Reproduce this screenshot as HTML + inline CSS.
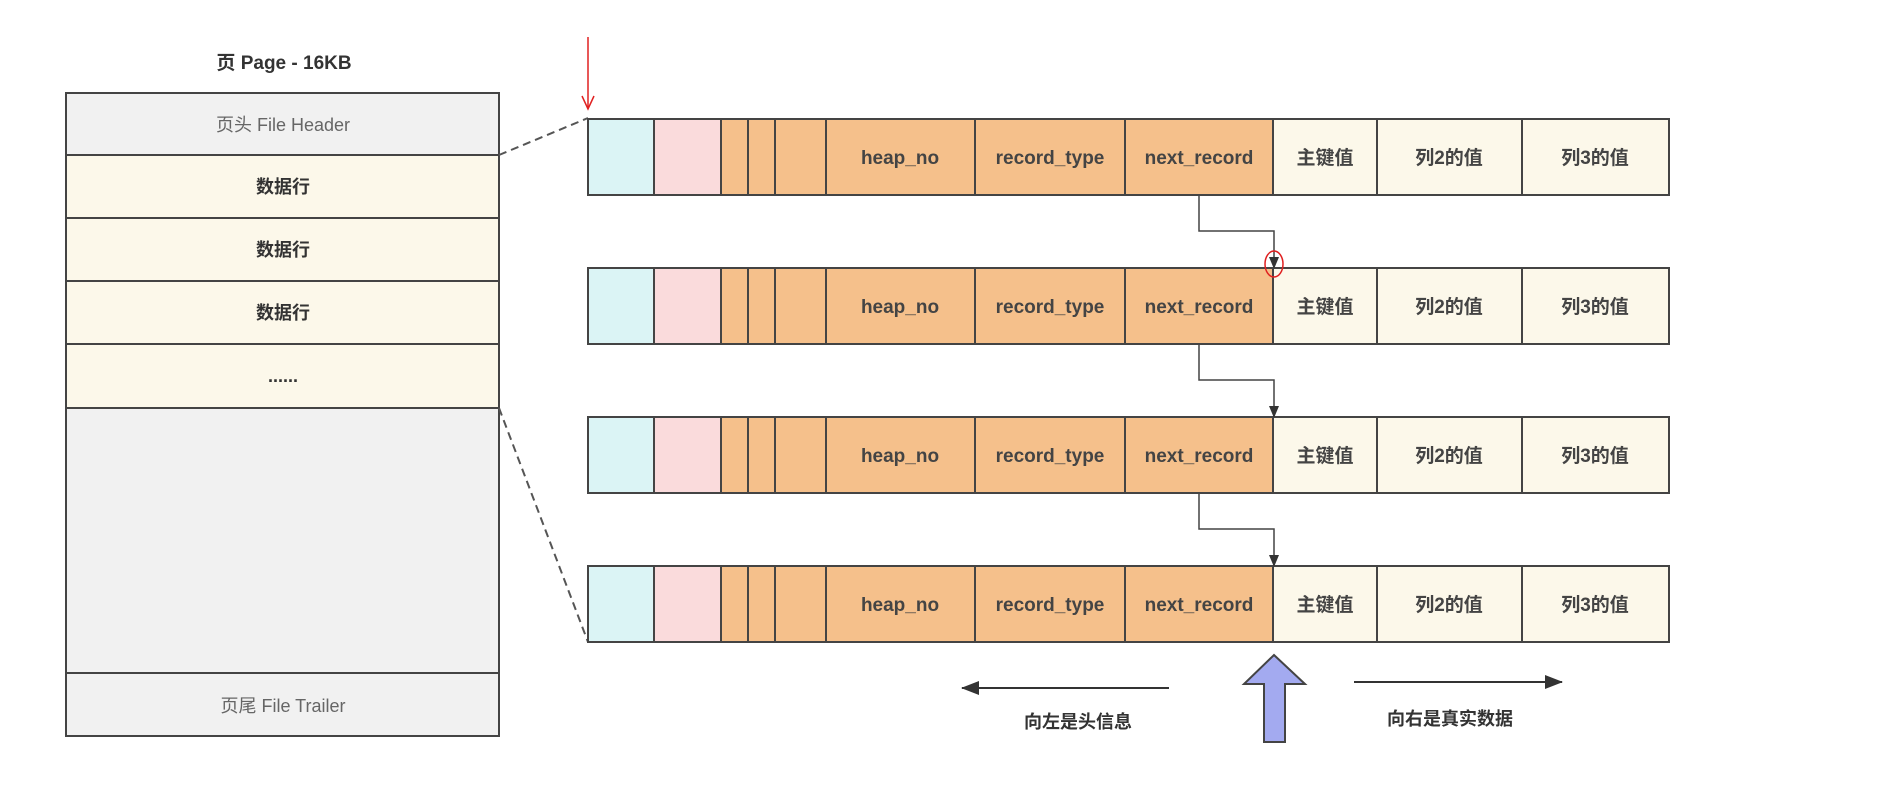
<!DOCTYPE html>
<html><head><meta charset="utf-8"><style>
html,body{margin:0;padding:0;background:#fff;}
svg{display:block;}
text{font-family:"Liberation Sans","Noto Sans CJK SC",sans-serif;}
</style></head><body>
<svg width="1884" height="795" viewBox="0 0 1884 795" xmlns="http://www.w3.org/2000/svg">
<defs>
<marker id="b" markerWidth="12" markerHeight="12" refX="11" refY="6" orient="auto" markerUnits="userSpaceOnUse"><path d="M0,1 L12,6 L0,11 Z" fill="#333"/></marker>
<marker id="c" markerWidth="18" markerHeight="14" refX="17" refY="7" orient="auto" markerUnits="userSpaceOnUse"><path d="M0,0 L18,7 L0,14 Z" fill="#333"/></marker>
</defs>
<text x="284" y="69" font-size="19" font-weight="bold" fill="#333" text-anchor="middle">页 Page - 16KB</text>
<g stroke="#444" stroke-width="2">
<rect x="66" y="93" width="433" height="62" fill="#f1f1f1"/>
<rect x="66" y="155" width="433" height="63" fill="#fcf8ea"/>
<rect x="66" y="218" width="433" height="63" fill="#fcf8ea"/>
<rect x="66" y="281" width="433" height="63" fill="#fcf8ea"/>
<rect x="66" y="344" width="433" height="64" fill="#fcf8ea"/>
<rect x="66" y="408" width="433" height="265" fill="#f1f1f1"/>
<rect x="66" y="673" width="433" height="63" fill="#f1f1f1"/>
</g>
<g font-size="18" text-anchor="middle">
<text x="283" y="131" fill="#666">页头 File Header</text>
<text x="283" y="193" fill="#333" font-weight="bold">数据行</text>
<text x="283" y="256" fill="#333" font-weight="bold">数据行</text>
<text x="283" y="319" fill="#333" font-weight="bold">数据行</text>
<text x="283" y="382" fill="#333" font-weight="bold">......</text>
<text x="283" y="712" fill="#666">页尾 File Trailer</text>
</g>
<g stroke="#555" stroke-width="2" stroke-dasharray="8,5" fill="none">
<line x1="499" y1="155" x2="588" y2="118"/>
<line x1="499" y1="408" x2="588" y2="642"/>
</g>
<g stroke="#444" stroke-width="2">
<rect x="588" y="119" width="66" height="76" fill="#dbf4f5"/><rect x="654" y="119" width="67" height="76" fill="#fadbdc"/><rect x="721" y="119" width="27" height="76" fill="#f5c08b"/><rect x="748" y="119" width="27" height="76" fill="#f5c08b"/><rect x="775" y="119" width="51" height="76" fill="#f5c08b"/><rect x="826" y="119" width="149" height="76" fill="#f5c08b"/><rect x="975" y="119" width="150" height="76" fill="#f5c08b"/><rect x="1125" y="119" width="148" height="76" fill="#f5c08b"/><rect x="1273" y="119" width="104" height="76" fill="#fcf8ea"/><rect x="1377" y="119" width="145" height="76" fill="#fcf8ea"/><rect x="1522" y="119" width="147" height="76" fill="#fcf8ea"/>
<rect x="588" y="268" width="66" height="76" fill="#dbf4f5"/><rect x="654" y="268" width="67" height="76" fill="#fadbdc"/><rect x="721" y="268" width="27" height="76" fill="#f5c08b"/><rect x="748" y="268" width="27" height="76" fill="#f5c08b"/><rect x="775" y="268" width="51" height="76" fill="#f5c08b"/><rect x="826" y="268" width="149" height="76" fill="#f5c08b"/><rect x="975" y="268" width="150" height="76" fill="#f5c08b"/><rect x="1125" y="268" width="148" height="76" fill="#f5c08b"/><rect x="1273" y="268" width="104" height="76" fill="#fcf8ea"/><rect x="1377" y="268" width="145" height="76" fill="#fcf8ea"/><rect x="1522" y="268" width="147" height="76" fill="#fcf8ea"/>
<rect x="588" y="417" width="66" height="76" fill="#dbf4f5"/><rect x="654" y="417" width="67" height="76" fill="#fadbdc"/><rect x="721" y="417" width="27" height="76" fill="#f5c08b"/><rect x="748" y="417" width="27" height="76" fill="#f5c08b"/><rect x="775" y="417" width="51" height="76" fill="#f5c08b"/><rect x="826" y="417" width="149" height="76" fill="#f5c08b"/><rect x="975" y="417" width="150" height="76" fill="#f5c08b"/><rect x="1125" y="417" width="148" height="76" fill="#f5c08b"/><rect x="1273" y="417" width="104" height="76" fill="#fcf8ea"/><rect x="1377" y="417" width="145" height="76" fill="#fcf8ea"/><rect x="1522" y="417" width="147" height="76" fill="#fcf8ea"/>
<rect x="588" y="566" width="66" height="76" fill="#dbf4f5"/><rect x="654" y="566" width="67" height="76" fill="#fadbdc"/><rect x="721" y="566" width="27" height="76" fill="#f5c08b"/><rect x="748" y="566" width="27" height="76" fill="#f5c08b"/><rect x="775" y="566" width="51" height="76" fill="#f5c08b"/><rect x="826" y="566" width="149" height="76" fill="#f5c08b"/><rect x="975" y="566" width="150" height="76" fill="#f5c08b"/><rect x="1125" y="566" width="148" height="76" fill="#f5c08b"/><rect x="1273" y="566" width="104" height="76" fill="#fcf8ea"/><rect x="1377" y="566" width="145" height="76" fill="#fcf8ea"/><rect x="1522" y="566" width="147" height="76" fill="#fcf8ea"/>
</g>
<g font-size="19" font-weight="bold" fill="#444" text-anchor="middle">
<text x="900" y="164">heap_no</text><text x="1050" y="164">record_type</text><text x="1199" y="164">next_record</text><text x="1325" y="164">主键值</text><text x="1449" y="164">列2的值</text><text x="1595" y="164">列3的值</text>
<text x="900" y="313">heap_no</text><text x="1050" y="313">record_type</text><text x="1199" y="313">next_record</text><text x="1325" y="313">主键值</text><text x="1449" y="313">列2的值</text><text x="1595" y="313">列3的值</text>
<text x="900" y="462">heap_no</text><text x="1050" y="462">record_type</text><text x="1199" y="462">next_record</text><text x="1325" y="462">主键值</text><text x="1449" y="462">列2的值</text><text x="1595" y="462">列3的值</text>
<text x="900" y="611">heap_no</text><text x="1050" y="611">record_type</text><text x="1199" y="611">next_record</text><text x="1325" y="611">主键值</text><text x="1449" y="611">列2的值</text><text x="1595" y="611">列3的值</text>
</g>
<g stroke="#444" stroke-width="1.5" fill="none" marker-end="url(#b)">
<polyline points="1199,195 1199,231 1274,231 1274,268"/>
<polyline points="1199,344 1199,380 1274,380 1274,417"/>
<polyline points="1199,493 1199,529 1274,529 1274,566"/>
</g>
<line x1="588" y1="37" x2="588" y2="108" stroke="#e02020" stroke-width="1.5"/>
<polyline points="582,96 588,109 594,96" stroke="#e02020" stroke-width="1.5" fill="none"/>
<ellipse cx="1274" cy="264" rx="9" ry="13" stroke="#e02020" stroke-width="1.5" fill="none"/>
<line x1="1169" y1="688" x2="962" y2="688" stroke="#333" stroke-width="2" marker-end="url(#c)"/>
<line x1="1354" y1="682" x2="1562" y2="682" stroke="#333" stroke-width="2" marker-end="url(#c)"/>
<polygon points="1274,655 1305,684 1285,684 1285,742 1264,742 1264,684 1244,684" fill="#a3aaf0" stroke="#444" stroke-width="2"/>
<g font-size="18" font-weight="bold" fill="#333" text-anchor="middle">
<text x="1078" y="728">向左是头信息</text>
<text x="1450" y="725">向右是真实数据</text>
</g>
</svg>
</body></html>
